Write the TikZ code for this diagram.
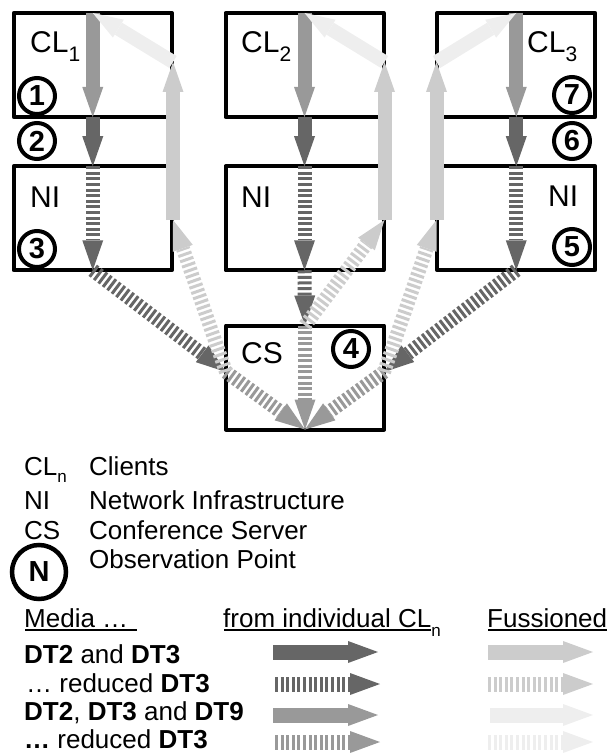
\documentclass[tikz,border=0pt]{standalone}
\usepackage{fontspec}
\setmainfont{Liberation Sans}
\usetikzlibrary{arrows.meta}

\definecolor{dark}{HTML}{666666}
\definecolor{mid}{HTML}{999999}
\definecolor{pale}{HTML}{CCCCCC}
\definecolor{faint}{HTML}{EEEEEE}

% lowered subscript: offset, size, text
\newcommand{\lowsub}[3]{\raisebox{-#1}{\fontsize{#2}{#2}\selectfont #3}}

\begin{document}
\begin{tikzpicture}[x=1pt,y=-1pt,
  box/.style={draw=black, line width=4pt, outer sep=0pt, inner sep=0pt,
    line join=round, minimum width=158pt, minimum height=104pt},
  boxtext/.style={anchor=base west, inner sep=0pt, font=\fontsize{30}{30}\selectfont},
  legtext/.style={anchor=base west, inner sep=0pt, font=\fontsize{26}{26}\selectfont},
  obspt/.style={circle, draw=black, line width=4pt, minimum size=36pt, inner sep=0pt,
    font=\fontsize{29}{29}\selectfont\bfseries},
  flow/.style={line width=14pt, -{Triangle[width=21pt,length=30pt,line width=0pt]}},
  striped/.style={flow, dash pattern=on 3pt off 2.6pt},
  legflow/.style={line width=15pt, -{Triangle[width=22pt,length=30pt,line width=0pt]}},
  legstriped/.style={legflow, dash pattern=on 3pt off 2.6pt},
  rule/.style={line width=1.6pt},
]
\useasboundingbox (0,0) rectangle (610,754);

% clients, network infrastructure and conference server
\node[box] (cl1) at (92.75,65) {};
\node[box] (ni1) at (92.75,218.25) {};
\node[box] (cl2) at (304.5,65) {};
\node[box] (ni2) at (304.5,218.25) {};
\node[box] (cl3) at (516.25,65) {};
\node[box] (ni3) at (516.25,218.25) {};
\node[box] (cs) at (305,377.5) {};

% points where the streams enter and leave the server and the return path
\coordinate (csL) at (226,372);
\coordinate (csR) at (384,372);
\coordinate (r1lo) at (173,220);
\coordinate (r1hi) at (173,62);
\coordinate (r2lo) at (384.5,220);
\coordinate (r2hi) at (384.5,62);
\coordinate (r3lo) at (436.5,220);
\coordinate (r3hi) at (436.5,62);

% upstream media of each client
\draw[flow, color=mid] (cl1.north) -- (cl1.south);
\draw[flow, color=dark] (cl1.south) -- (ni1.north);
\draw[striped, color=dark] (ni1.north) -- (ni1.south);
\draw[flow, color=mid] (cl2.north) -- (cl2.south);
\draw[flow, color=dark] (cl2.south) -- (ni2.north);
\draw[striped, color=dark] (ni2.north) -- (ni2.south);
\draw[flow, color=mid] (cl3.north) -- (cl3.south);
\draw[flow, color=dark] (cl3.south) -- (ni3.north);
\draw[striped, color=dark] (ni3.north) -- (ni3.south);

% towards the conference server
\draw[striped, color=dark] (ni1.south) -- (csL);
\draw[striped, color=dark] (ni2.south) -- (cs.north);
\draw[striped, color=dark] (ni3.south) -- (csR);

% fusion inside the server
\draw[striped, color=mid] (csL) -- (cs.south);
\draw[striped, color=mid] (csR) -- (cs.south);
\draw[striped, color=mid] (cs.north) -- (cs.south);

% fused media back to the clients
\draw[striped, color=pale] (csL) -- (r1lo);
\draw[striped, color=pale] (cs.north) -- (r2lo);
\draw[striped, color=pale] (csR) -- (r3lo);
\draw[flow, color=pale] (r1lo) -- (r1hi);
\draw[flow, color=pale] (r2lo) -- (r2hi);
\draw[flow, color=pale] (r3lo) -- (r3hi);
\draw[flow, color=faint] (r1hi) -- (cl1.north);
\draw[flow, color=faint] (r2hi) -- (cl2.north);
\draw[flow, color=faint] (r3hi) -- (cl3.north);

% box names
\node[boxtext] (t-cl1) at (30,53) {CL\lowsub{9pt}{21}{1}};
\node[boxtext] (t-cl2) at (241,53) {CL\lowsub{9pt}{21}{2}};
\node[boxtext] (t-cl3) at (527,53) {CL\lowsub{9pt}{21}{3}};
\node[boxtext] (t-ni1) at (30,207) {NI};
\node[boxtext] (t-ni2) at (241,207) {NI};
\node[boxtext] (t-ni3) at (548,206) {NI};
\node[boxtext] (t-cs) at (241,363) {CS};

% observation points
\node[obspt] (op1) at (37,96) {1};
\node[obspt] (op2) at (37,141) {2};
\node[obspt] (op3) at (37,249) {3};
\node[obspt] (op4) at (351,349) {4};
\node[obspt] (op5) at (572,247) {5};
\node[obspt] (op6) at (572,141) {6};
\node[obspt] (op7) at (572,95) {7};

% legend of the abbreviations
\node[legtext] (k-cl) at (24,475) {CL\lowsub{7pt}{17}{n}};
\node[legtext] (k-clients) at (89,475) {Clients};
\node[legtext] (k-ni) at (24,509) {NI};
\node[legtext] (k-network) at (89,509) {Network Infrastructure};
\node[legtext] (k-cs) at (24,539) {CS};
\node[legtext] (k-server) at (89,539) {Conference Server};
\node[obspt, minimum size=54pt, line width=4.5pt] (k-op) at (39,572) {N};
\node[legtext] (k-obs) at (89,568) {Observation Point};

% legend of the media streams
\node[legtext] (h-media) at (24,627) {Media …};
\node[legtext] (h-from) at (223,627) {from individual CL\lowsub{9pt}{17}{n}};
\node[legtext] (h-fus) at (487,627) {Fussioned};
\draw[rule] (25,630) -- (137,630);
\draw[rule] (224,630) -- (431,630);
\draw[rule] (488,630) -- (607,630);

\node[legtext] (m1) at (24,663) {\textbf{DT2} and \textbf{DT3}};
\node[legtext] (m2) at (26,692) {… reduced \textbf{DT3}};
\node[legtext] (m3) at (24,720) {\textbf{DT2}, \textbf{DT3} and \textbf{DT9}};
\node[legtext] (m4) at (24,748) {\textbf{…} reduced \textbf{DT3}};

\draw[legflow, color=dark] (273,652) -- (378,652);
\draw[legflow, color=pale] (488,652) -- (593,652);
\draw[legstriped, color=dark] (275,684) -- (380,684);
\draw[legstriped, color=pale] (488,684) -- (593,684);
\draw[legflow, color=mid] (273,715) -- (378,715);
\draw[legflow, color=faint] (490,715) -- (593,715);
\draw[legstriped, color=mid] (275,742) -- (380,742);
\draw[legstriped, color=faint] (488,742) -- (593,742);
\end{tikzpicture}
\end{document}
